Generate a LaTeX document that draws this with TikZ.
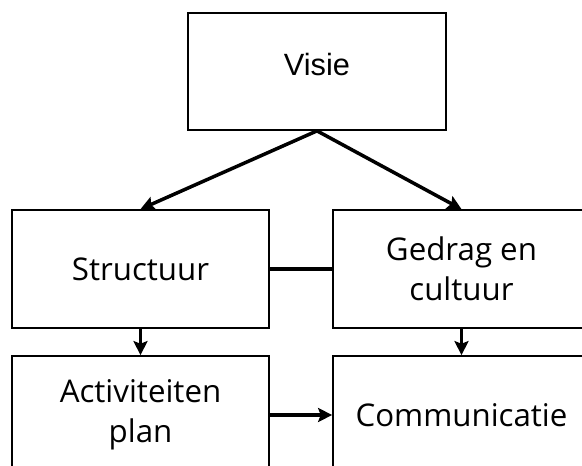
\documentclass[tikz,border=0pt]{standalone}
\usepackage{fontspec}
\setmainfont{Open Sans}
\newfontfamily\visiefont{Liberation Sans}
\usepackage{tikz}
\usetikzlibrary{arrows.meta,shapes,positioning}
\tikzstyle{box} = [draw, line width=1pt, rectangle, inner sep=0pt, minimum width=5.14cm, minimum height=2.36cm, font=\fontsize{17.8}{22.7}\selectfont, align=center]
\tikzstyle{arrow} = [line width=2pt,->,>={Stealth[length=8pt,width=8pt,inset=1.5pt]}]
\tikzstyle{link} = [line width=2pt]

\begin{document}
\begin{tikzpicture}[x=0.02cm, y=-0.02cm]
\clip (0,0) rectangle (582,466);
\fill[white] (0,0) rectangle (582,466);

% Top box
\node[box, minimum width=5.16cm, minimum height=2.34cm, text depth=8pt, font=\visiefont\fontsize{17.5}{22}\selectfont] (visie) at (317,71.5) {Visie};

% Middle row
\node[box] (structuur) at (140.5,269) {Structuur};
\node[box] (gedrag) at (461.5,269) {Gedrag en\\cultuur};

% Bottom row
\node[box] (activiteiten) at (140.5,415) {Activiteiten\\plan};
\node[box] (communicatie) at (461.5,415) {Communicatie};

% Connectors
\draw[arrow] (visie.south) -- (structuur.north);
\draw[arrow] (visie.south) -- (gedrag.north);
\draw[link] (structuur) -- (gedrag);
\draw[arrow] (structuur) -- (activiteiten);
\draw[arrow] (gedrag) -- (communicatie);
\draw[arrow] (activiteiten) -- (communicatie);
\end{tikzpicture}
\end{document}
